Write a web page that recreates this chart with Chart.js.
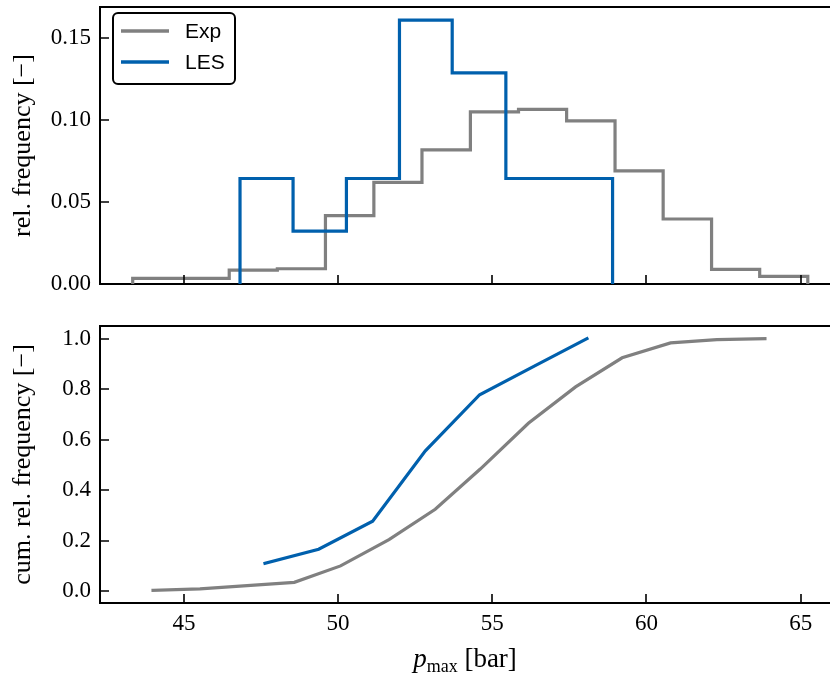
<!DOCTYPE html>
<html>
<head>
<meta charset="utf-8">
<script src="https://cdn.jsdelivr.net/npm/chart.js@4.4.0/dist/chart.umd.min.js"></script>
<style>
  html, body { margin: 0; padding: 0; background: #fff; }
  #wrap { position: relative; width: 830px; height: 673px; overflow: hidden; background: #fff; }
  #histCanvas { position: absolute; left: 0; top: 0; }
  #cumCanvas { position: absolute; left: 0; top: 310px; }
  #xlabel {
    position: absolute; left: 100px; width: 730px; top: 643px;
    text-align: center; font-family: 'Liberation Serif', serif; font-size: 27px; line-height: 30px; color: #000;
  }
  #xlabel .sub { font-size: 18px; position: relative; top: 5px; }
</style>
</head>
<body>
<div id="wrap">
  <canvas id="histCanvas" width="830" height="300"></canvas>
  <canvas id="cumCanvas" width="830" height="363"></canvas>
  <div id="xlabel"><i>p</i><span class="sub">max</span> [bar]</div>
</div>
<script>
// histogram bin edges and densities
const expEdges = [43.34, 44.90, 46.47, 48.03, 49.59, 51.16, 52.72, 54.29, 55.85, 57.41, 58.98, 60.54, 62.11, 63.67, 65.23];
const expDensity = [0.0034, 0.0034, 0.0085, 0.0093, 0.0417, 0.0619, 0.0817, 0.1049, 0.1064, 0.0994, 0.0689, 0.0396, 0.0089, 0.0046];
const lesEdges = [46.82, 48.54, 50.27, 51.99, 53.70, 55.44, 57.17, 58.90];
const lesDensity = [0.0643, 0.0322, 0.0643, 0.1608, 0.1287, 0.0643, 0.0643];

// cumulative curves (bottom panel)
const expCumX = [44.00, 45.52, 47.05, 48.58, 50.08, 51.65, 53.15, 54.61, 56.17, 57.70, 59.21, 60.78, 62.28, 63.84];
const expCum = [0.004, 0.010, 0.023, 0.036, 0.101, 0.205, 0.325, 0.484, 0.665, 0.809, 0.924, 0.983, 0.996, 1.0];
const lesCumX = [47.63, 49.37, 51.12, 52.83, 54.59, 56.33, 58.07];
const lesCum = [0.111, 0.167, 0.278, 0.556, 0.778, 0.889, 1.0];

const seriesNames = ['Exp', 'LES'];
const xTicks = [45, 50, 55, 60, 65];
const histTicks = [0, 0.05, 0.10, 0.15];
const cumTicks = [0, 0.2, 0.4, 0.6, 0.8, 1.0];

const grey = '#808080';
const blue = '#0060ad';
const serif = 'Liberation Serif';

Chart.defaults.color = '#000';
Chart.defaults.font.family = serif;

// outline of a step histogram (matplotlib histtype="step")
function outline(edges, vals) {
    const pts = [{ x: edges[0], y: 0 }];
    vals.forEach((v, i) => {
        pts.push({ x: edges[i], y: v });
        pts.push({ x: edges[i + 1], y: v });
    });
    pts.push({ x: edges[edges.length - 1], y: 0 });
    return pts;
}

const zip = (xs, ys) => xs.map((x, i) => ({ x: x, y: ys[i] }));

// inward ticks + top spine, like the mpl style
const frame = {
    id: 'frame',
    afterDatasetsDraw(chart) {
        const { ctx, chartArea: a, scales: { x, y } } = chart;
        ctx.save();
        ctx.strokeStyle = '#000';
        ctx.lineWidth = 1.6;
        ctx.beginPath();
        xTicks.forEach(v => {
            const px = Math.round(x.getPixelForValue(v));
            ctx.moveTo(px, a.bottom);
            ctx.lineTo(px, a.bottom - 9);
        });
        y.ticks.forEach(t => {
            const py = Math.round(y.getPixelForValue(t.value));
            ctx.moveTo(a.left, py);
            ctx.lineTo(a.left + 9, py);
        });
        ctx.stroke();
        ctx.lineWidth = 2;
        ctx.beginPath();
        ctx.moveTo(a.left - 1, a.top);
        ctx.lineTo(a.right, a.top);
        ctx.stroke();
        ctx.restore();
    }
};

// framed legend in the upper left corner
const boxLegend = {
    id: 'boxLegend',
    afterDraw(chart) {
        const { ctx, chartArea: a } = chart;
        const x0 = a.left + 13, y0 = a.top + 6;
        ctx.save();
        ctx.beginPath();
        ctx.roundRect(x0, y0, 122, 71, 5);
        ctx.fillStyle = 'rgba(255,255,255,0.8)';
        ctx.fill();
        ctx.lineWidth = 2;
        ctx.strokeStyle = '#000';
        ctx.stroke();
        ctx.font = '21px "Liberation Sans"';
        ctx.textBaseline = 'middle';
        chart.data.datasets.forEach((ds, i) => {
            const yy = y0 + 18 + i * 31;
            ctx.strokeStyle = ds.borderColor;
            ctx.lineWidth = 3.5;
            ctx.beginPath();
            ctx.moveTo(x0 + 8, yy);
            ctx.lineTo(x0 + 56, yy);
            ctx.stroke();
            ctx.fillStyle = '#000';
            ctx.fillText(ds.label, x0 + 72, yy + 1);
        });
        ctx.restore();
    }
};

const xMin = 42.28;
const xMax = 65.95;

function xScale(height, showLabels) {
    return {
        type: 'linear',
        min: xMin,
        max: xMax,
        afterBuildTicks: s => { s.ticks = xTicks.map(v => ({ value: v })); },
        afterFit: s => {
            s.height = height;
            s.paddingLeft = 0; s.paddingRight = 0; s.paddingTop = 0; s.paddingBottom = 0;
        },
        ticks: { display: showLabels, padding: 7, font: { size: 23 }, callback: v => String(v) },
        grid: { display: false, drawTicks: false },
        border: { color: '#000', width: 2 }
    };
}

function yScale(min, max, ticks, digits, title) {
    return {
        min: min,
        max: max,
        afterBuildTicks: s => { s.ticks = ticks.map(v => ({ value: v })); },
        afterFit: s => {
            s.width = 100;
            s.paddingLeft = 0; s.paddingRight = 0; s.paddingTop = 0; s.paddingBottom = 0;
        },
        ticks: { padding: 9, font: { size: 23 }, callback: v => v.toFixed(digits) },
        grid: { display: false, drawTicks: false },
        border: { color: '#000', width: 2 },
        title: { display: true, text: title, font: { size: 26 }, padding: { top: 8, bottom: 0 } }
    };
}

const lineStyle = { borderWidth: 3.2, pointRadius: 0, tension: 0, fill: false, borderJoinStyle: 'miter' };

new Chart(document.getElementById('histCanvas').getContext('2d'), {
    type: 'line',
    data: {
        datasets: [
            { label: seriesNames[0], data: outline(expEdges, expDensity), borderColor: grey, order: 1, ...lineStyle },
            { label: seriesNames[1], data: outline(lesEdges, lesDensity), borderColor: blue, order: 0, ...lineStyle }
        ]
    },
    options: {
        responsive: false,
        animation: false,
        events: [],
        layout: { padding: { top: 7, right: 0, left: 0, bottom: 0 } },
        plugins: { legend: { display: false }, tooltip: { enabled: false } },
        scales: {
            x: xScale(16, false),
            y: yScale(0, 0.1688, histTicks, 2, 'rel. frequency [\u2212]')
        }
    },
    plugins: [frame, boxLegend]
});

new Chart(document.getElementById('cumCanvas').getContext('2d'), {
    type: 'line',
    data: {
        datasets: [
            { label: seriesNames[0], data: zip(expCumX, expCum), borderColor: grey, borderCapStyle: 'square', ...lineStyle },
            { label: seriesNames[1], data: zip(lesCumX, lesCum), borderColor: blue, borderCapStyle: 'square', ...lineStyle }
        ]
    },
    options: {
        responsive: false,
        animation: false,
        events: [],
        layout: { padding: { top: 16, right: 0, left: 0, bottom: 0 } },
        plugins: { legend: { display: false }, tooltip: { enabled: false } },
        scales: {
            x: xScale(70, true),
            y: yScale(-0.0458, 1.0498, cumTicks, 1, 'cum. rel. frequency [\u2212]')
        }
    },
    plugins: [frame]
});
</script>
</body>
</html>
